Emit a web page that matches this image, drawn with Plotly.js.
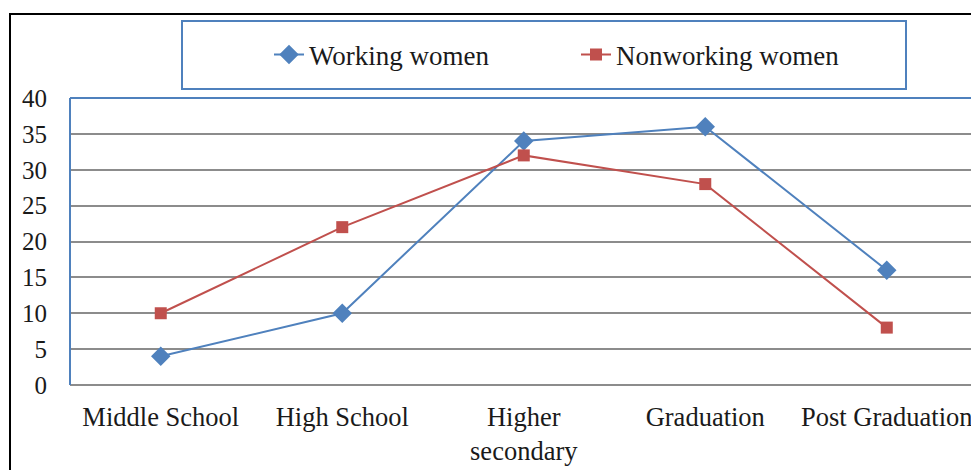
<!DOCTYPE html>
<html>
<head>
<meta charset="utf-8">
<script src="https://cdn.plot.ly/plotly-3.0.1.min.js"></script>
<style>html,body{margin:0;padding:0;background:#fff;}#chart{width:971px;height:470px;}</style>
</head>
<body>
<div id="chart"></div>
<script>
const categories = ["Middle School", "High School", "Higher<br>secondary", "Graduation", "Post Graduation"];
const workingWomen = [4, 10, 34, 36, 16];
const nonworkingWomen = [10, 22, 32, 28, 8];
const yTicks = [0, 5, 10, 15, 20, 25, 30, 35, 40];

const W = 971, H = 470, L = 70, R = 0, T = 98, B = 85;
const pw = W - L - R, ph = H - T - B;
const px = x => (x - L) / pw;
const py = y => (H - B - y) / ph;

const blue = '#4f81bd', red = '#c0504d';
const fam = '"Times New Roman", Times, serif';
const yFont = {family: fam, size: 25, color: '#1a1a1a'};
const xFont = {family: fam, size: 26.5, color: '#1a1a1a'};
const legFont = {family: fam, size: 27, color: '#1a1a1a'};

const traces = [
  {x: categories, y: workingWomen, name: 'Working women', type: 'scatter', mode: 'lines+markers',
   line: {color: blue, width: 2}, marker: {symbol: 'diamond', size: 15, color: blue}},
  {x: categories, y: nonworkingWomen, name: 'Nonworking women', type: 'scatter', mode: 'lines+markers',
   line: {color: red, width: 2}, marker: {symbol: 'square', size: 12, color: red}}
];

const layout = {
  width: W, height: H,
  margin: {l: L, r: R, t: T, b: B, pad: 0},
  paper_bgcolor: '#fff', plot_bgcolor: '#fff',
  font: yFont,
  showlegend: true,
  legend: {orientation: 'h', x: px(269), xanchor: 'left', y: py(55), yanchor: 'middle',
           font: legFont, bgcolor: 'rgba(0,0,0,0)', borderwidth: 0, entrywidth: 262, entrywidthmode: 'pixels'},
  xaxis: {type: 'category', range: [-0.5, 4.464], showgrid: false, zeroline: false, showline: false,
          ticks: '', tickfont: xFont, ticklabelstandoff: 13, fixedrange: true},
  yaxis: {range: [0, 40], tickvals: yTicks, ticktext: yTicks.map(String), showgrid: true,
          gridcolor: '#8c8c8c', gridwidth: 2, zeroline: true, zerolinecolor: '#8c8c8c', zerolinewidth: 2,
          showline: false, ticks: '', tickfont: yFont, ticklabelstandoff: 22, fixedrange: true},
  shapes: [
    {type: 'rect', xref: 'paper', yref: 'paper', x0: px(10), x1: 1.2, y0: -0.6, y1: py(14),
     line: {color: '#000', width: 2}},
    {type: 'rect', xref: 'paper', yref: 'paper', x0: px(182), x1: px(906), y0: py(89), y1: py(21),
     line: {color: blue, width: 2}},
    {type: 'line', xref: 'paper', yref: 'paper', x0: 0, x1: 1.01, y0: 1, y1: 1, line: {color: blue, width: 2}},
    {type: 'line', xref: 'paper', yref: 'paper', x0: 0, x1: 0, y0: 0, y1: 1, line: {color: blue, width: 2}}
  ]
};

Plotly.newPlot('chart', traces, layout, {displayModeBar: false, staticPlot: true});
</script>
</body>
</html>
